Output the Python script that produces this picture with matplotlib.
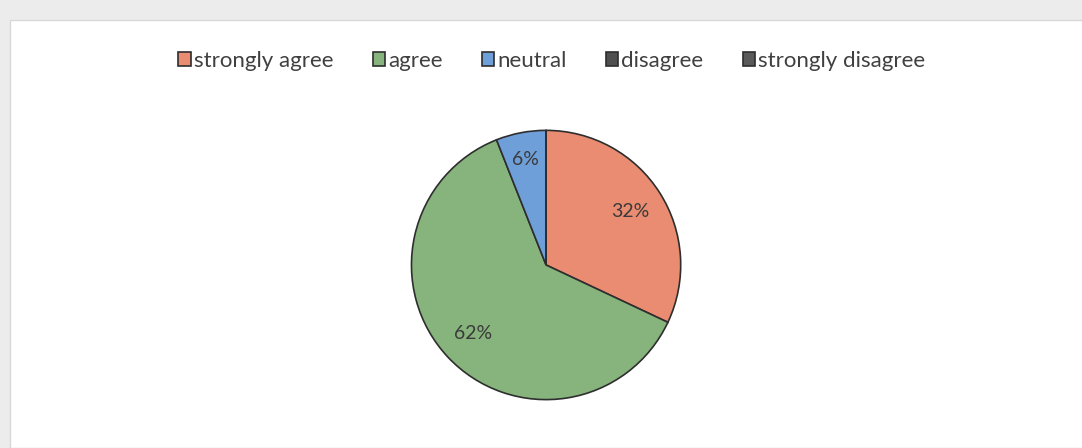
import numpy as np
import matplotlib.pyplot as plt
from matplotlib.patches import Rectangle

# survey answers, share of respondents (%)
categories = ["strongly agree", "agree", "neutral", "disagree", "strongly disagree"]
shares = [32, 62, 6, 0, 0]
colors = ["#e98c72", "#86b47c", "#6f9fd9", "#4f4f4f", "#5a5a5a"]

plt.rcParams['font.family'] = ['Lato', 'DejaVu Sans']

fig = plt.figure(figsize=(10.82, 4.48), dpi=100, facecolor="#ececec")
# white chart panel
fig.patches.append(Rectangle((10 / 1082, 0), 1, 1 - 20 / 448, transform=fig.transFigure,
                             facecolor="white", edgecolor="#d8d8d8", linewidth=1, zorder=-1))

ax = fig.add_axes([0.379, 0.105, 0.2514, 0.607])
ax.set_zorder(2)


def pct(p):
    return "%d%%" % round(p) if p > 0.5 else ""


wedges, texts, autotexts = ax.pie(shares, colors=colors, startangle=90, counterclock=False,
                                  autopct=pct, pctdistance=0.74,
                                  wedgeprops=dict(edgecolor="#2e2e2e", linewidth=1.2),
                                  textprops=dict(fontsize=14, color="#3a3a3a"))
# small slice label sits a bit further out
w = wedges[2]
mid = np.deg2rad((w.theta1 + w.theta2) / 2)
autotexts[2].set_position((0.8 * np.cos(mid), 0.8 * np.sin(mid)))

ax.set_xlim(-1.01, 1.01)
ax.set_ylim(-1.01, 1.01)
ax.set_aspect("equal")

fig.legend(wedges, categories, loc="center", bbox_to_anchor=(0.51, 0.864), ncol=5,
           frameon=False, fontsize=16, handlelength=0.55, handleheight=0.55,
           handletextpad=0.15, columnspacing=1.76, labelcolor="#404040")

plt.savefig("out.png", dpi=100, facecolor=fig.get_facecolor())
